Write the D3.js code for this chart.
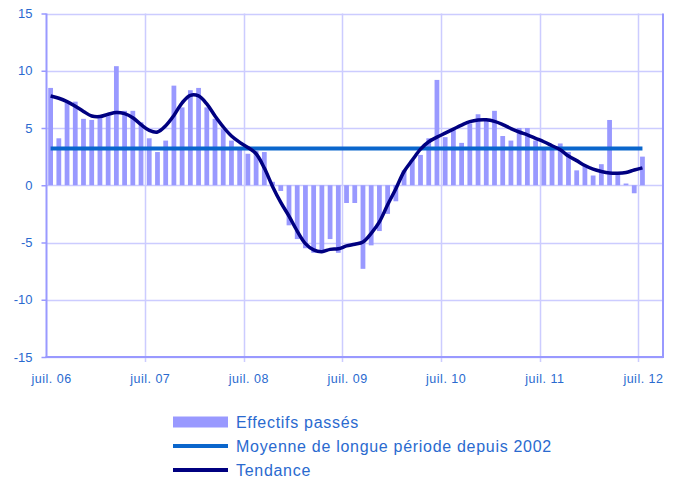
<!DOCTYPE html>
<meta charset="utf-8">
<script src="https://d3js.org/d3.v7.min.js"></script>
<style>
  body { margin: 0; background: #fff; }
  text { font-family: "Liberation Sans", Arial, sans-serif; }
</style>
<div id="my_dataviz"></div>
<script>

// months from juil. 06 to juil. 12
var months = [
  "2006-07","2006-08","2006-09","2006-10","2006-11","2006-12",
  "2007-01","2007-02","2007-03","2007-04","2007-05","2007-06","2007-07","2007-08","2007-09","2007-10","2007-11","2007-12",
  "2008-01","2008-02","2008-03","2008-04","2008-05","2008-06","2008-07","2008-08","2008-09","2008-10","2008-11","2008-12",
  "2009-01","2009-02","2009-03","2009-04","2009-05","2009-06","2009-07","2009-08","2009-09","2009-10","2009-11","2009-12",
  "2010-01","2010-02","2010-03","2010-04","2010-05","2010-06","2010-07","2010-08","2010-09","2010-10","2010-11","2010-12",
  "2011-01","2011-02","2011-03","2011-04","2011-05","2011-06","2011-07","2011-08","2011-09","2011-10","2011-11","2011-12",
  "2012-01","2012-02","2012-03","2012-04","2012-05","2012-06","2012-07"
];
// two empty months after the last value (axis runs to sept. 12)
var axisMonths = months.concat(["2012-08", "2012-09"]);

// Effectifs passés (bars)
var effectifs = [
  8.5, 4.1, 7.2, 7.3, 5.8, 5.7,
  5.9, 6.1, 10.4, 6.5, 6.5, 5.5, 4.1, 2.9, 3.9, 8.7, 6.8, 8.3,
  8.5, 6.8, 5.8, 4.9, 3.9, 3.3, 2.75, 3.0, 2.9, 0.3, -0.5, -3.5,
  -4.7, -5.5, -5.9, -5.85, -4.7, -5.9, -1.55, -1.55, -7.3, -5.25, -4.0, -2.5,
  -1.4, 1.3, 2.2, 2.65, 4.1, 9.2, 4.2, 4.9, 3.7, 5.4, 6.2, 5.7,
  6.5, 4.3, 3.9, 5.0, 5.0, 3.9, 3.3, 3.1, 3.65, 2.9, 1.3, 1.7,
  0.85, 1.84, 5.7, 1.05, 0.15, -0.7, 2.5
];

// Tendance (smoothed line)
var tendance = [
  7.8, 7.6, 7.3, 6.9, 6.45, 6.05,
  6.0, 6.2, 6.35, 6.25, 5.9, 5.3, 4.8, 4.65, 5.2, 6.1, 7.2, 7.85,
  7.8, 7.1, 6.05, 5.1, 4.3, 3.75, 3.3, 2.75, 1.5, -0.1, -1.5, -2.7,
  -4.0, -5.1, -5.65, -5.8, -5.6, -5.55, -5.3, -5.15, -4.95, -4.2, -3.2, -1.7,
  -0.3, 1.2, 2.2, 3.15, 3.8, 4.2, 4.55, 4.9, 5.25, 5.55, 5.7, 5.72,
  5.58, 5.3, 4.95, 4.65, 4.4, 4.1, 3.8, 3.45, 3.1, 2.55, 2.15, 1.72,
  1.4, 1.2, 1.07, 1.05, 1.12, 1.33, 1.52
];

// Moyenne de longue période depuis 2002
var moyenne = 3.2;

// axis labels
var xTickMonths = ["2006-07","2007-07","2008-07","2009-07","2010-07","2011-07","2012-07"];
var xTickLabels = ["juil. 06","juil. 07","juil. 08","juil. 09","juil. 10","juil. 11","juil. 12"];
var yTicks = [-15, -10, -5, 0, 5, 10, 15];

var legendLabels = ["Effectifs passés", "Moyenne de longue période depuis 2002", "Tendance"];

// dimensions
var W = 681, H = 480;
var plot = {left: 46.5, right: 663, top: 13.5, bottom: 357};

var svg = d3.select("#my_dataviz")
  .append("svg")
    .attr("width", W)
    .attr("height", H);

var x = d3.scaleBand()
  .domain(axisMonths)
  .range([plot.left, plot.right])
  .paddingInner(0.42)
  .paddingOuter(0.21);

var band = d3.scaleBand().domain(axisMonths).range([plot.left, plot.right]);
function cx(m) { return band(m) + band.bandwidth() / 2; }

var y = d3.scaleLinear().domain([-15, 15]).range([plot.bottom, plot.top]);

var gridColor = "#ccccff", axisColor = "#9999ff", textColor = "#2a6acf";

// horizontal grid
svg.append("g")
  .selectAll("line")
  .data(yTicks)
  .enter().append("line")
    .attr("x1", plot.left).attr("x2", plot.right)
    .attr("y1", function(d){ return Math.round(y(d)) + 0.5; })
    .attr("y2", function(d){ return Math.round(y(d)) + 0.5; })
    .attr("stroke", gridColor).attr("stroke-width", 1.5);

// vertical grid at each july
svg.append("g")
  .selectAll("line")
  .data(xTickMonths.slice(1))
  .enter().append("line")
    .attr("x1", function(d){ return Math.round(band(d)) + 0.5; })
    .attr("x2", function(d){ return Math.round(band(d)) + 0.5; })
    .attr("y1", plot.top).attr("y2", plot.bottom + 5)
    .attr("stroke", gridColor).attr("stroke-width", 1.5);

// bars
svg.append("g")
  .selectAll("rect")
  .data(effectifs)
  .enter().append("rect")
    .attr("x", function(d, i){ return x(months[i]); })
    .attr("width", x.bandwidth())
    .attr("y", function(d){ return y(Math.max(0, d)); })
    .attr("height", function(d){ return Math.abs(y(d) - y(0)); })
    .attr("fill", "#9999ff");

// axes
svg.append("line").attr("x1", plot.left).attr("x2", plot.left).attr("y1", plot.top).attr("y2", plot.bottom)
  .attr("stroke", axisColor).attr("stroke-width", 2);
svg.append("line").attr("x1", plot.right).attr("x2", plot.right).attr("y1", plot.top).attr("y2", plot.bottom)
  .attr("stroke", axisColor).attr("stroke-width", 2);
svg.append("line").attr("x1", plot.left - 1).attr("x2", plot.right + 1).attr("y1", plot.bottom).attr("y2", plot.bottom)
  .attr("stroke", axisColor).attr("stroke-width", 2);

// y axis ticks and labels (plain hyphen for negatives, as in the source)
var yAxis = svg.append("g")
  .attr("transform", "translate(" + plot.left + ",0)")
  .call(d3.axisLeft(y).tickValues(yTicks).tickSize(5).tickPadding(9)
    .tickFormat(function(d){ return String(d); }));
yAxis.select(".domain").remove();
yAxis.selectAll(".tick line").attr("stroke", axisColor).attr("stroke-width", 1.5);
yAxis.selectAll(".tick text")
  .attr("fill", textColor)
  .style("font-size", "13px")
  .style("font-family", "Liberation Sans, Arial, sans-serif");

// x labels
svg.append("g")
  .selectAll("text")
  .data(xTickLabels)
  .enter().append("text")
    .attr("x", function(d, i){ return cx(xTickMonths[i]) + 1; })
    .attr("y", 383)
    .attr("text-anchor", "middle")
    .attr("fill", textColor)
    .style("font-size", "12.5px")
    .style("letter-spacing", "0.5px")
    .text(function(d){ return d; });

// long period mean
svg.append("line")
  .attr("x1", cx(months[0])).attr("x2", cx(months[months.length - 1]))
  .attr("y1", y(moyenne)).attr("y2", y(moyenne))
  .attr("stroke", "#0a66cc").attr("stroke-width", 4);

// trend
var line = d3.line()
  .x(function(d, i){ return cx(months[i]); })
  .y(function(d){ return y(d); })
  .curve(d3.curveCatmullRom.alpha(0.5));

svg.append("path")
  .datum(tendance)
  .attr("d", line)
  .attr("fill", "none")
  .attr("stroke", "#000080")
  .attr("stroke-width", 3.5)
  .attr("stroke-linejoin", "round");

// legend
var legend = svg.append("g").attr("transform", "translate(173,0)");
var rowY = [422, 446, 470];
legend.append("rect").attr("x", 0).attr("y", rowY[0] - 5.5).attr("width", 55).attr("height", 11).attr("fill", "#9999ff");
legend.append("line").attr("x1", 0).attr("x2", 55).attr("y1", rowY[1]).attr("y2", rowY[1])
  .attr("stroke", "#0a66cc").attr("stroke-width", 4);
legend.append("line").attr("x1", 0).attr("x2", 55).attr("y1", rowY[2]).attr("y2", rowY[2])
  .attr("stroke", "#000080").attr("stroke-width", 4);
legend.selectAll("text")
  .data(legendLabels)
  .enter().append("text")
    .attr("x", 63)
    .attr("y", function(d, i){ return rowY[i] + 6; })
    .attr("fill", textColor)
    .style("font-size", "16px")
    .style("letter-spacing", "0.7px")
    .text(function(d){ return d; });

</script>
